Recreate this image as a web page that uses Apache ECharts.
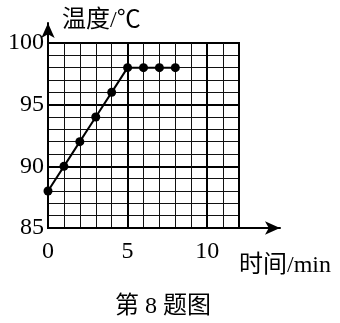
<!DOCTYPE html>
<html><head><meta charset="utf-8">
<script src="https://cdn.jsdelivr.net/npm/echarts@6/dist/echarts.min.js"></script>
<style>html,body{margin:0;padding:0;background:#fff}#c{width:340px;height:323px}</style>
</head><body><div id="c"></div>
<script>
const times = [0, 1, 2, 3, 4, 5, 6, 7, 8];
const temps = [88, 90, 92, 94, 96, 98, 98, 98, 98];
const xRange = [0, 12];
const yRange = [85, 100];
const yName = '温度/℃';
const xName = '时间/min';
const caption = '第 8 题图';

const serif = '"Liberation Serif", "Noto Sans CJK SC", serif';
const chart = echarts.init(document.getElementById('c'), null, {renderer: 'canvas'});
const gridA = {left: 48, right: 101, top: 43, bottom: 95, show: true, borderColor: '#000', borderWidth: 2};
const gridB = {left: 48, right: 60, top: 23, bottom: 95};
chart.setOption({
  backgroundColor: '#fff',
  animation: false,
  title: [
    {text: yName, left: 57, top: 4, textStyle: {fontFamily: serif, fontSize: 24, fontWeight: 'normal', color: '#000'}},
    {text: xName, left: 234, top: 249, textStyle: {fontFamily: serif, fontSize: 24, fontWeight: 'normal', color: '#000'}},
    {text: caption, left: 110, top: 290, textStyle: {fontFamily: serif, fontSize: 24, fontWeight: 'normal', color: '#000'}}
  ],
  grid: [gridA, gridB],
  xAxis: [
    {type: 'value', gridIndex: 0, min: xRange[0], max: xRange[1], interval: 1,
     axisLine: {show: false}, axisTick: {show: false}, axisLabel: {show: false},
     splitLine: {show: true, lineStyle: {color: '#111', width: 1}}},
    {type: 'value', gridIndex: 0, min: xRange[0], max: xRange[1], interval: 5, position: 'bottom',
     axisLine: {show: false}, axisTick: {show: false},
     axisLabel: {show: true, margin: 12, fontFamily: serif, fontSize: 24, color: '#000', showMaxLabel: false},
     splitLine: {show: true, lineStyle: {color: '#000', width: 2}}},
    {type: 'value', gridIndex: 1, min: 0, max: 1,
     axisLine: {show: true, symbol: ['none', 'arrow'], symbolSize: [10, 15], lineStyle: {color: '#000', width: 2}},
     axisTick: {show: false}, axisLabel: {show: false}, splitLine: {show: false}}
  ],
  yAxis: [
    {type: 'value', gridIndex: 0, min: yRange[0], max: yRange[1], interval: 1,
     axisLine: {show: false}, axisTick: {show: false}, axisLabel: {show: false},
     splitLine: {show: true, lineStyle: {color: '#111', width: 1}}},
    {type: 'value', gridIndex: 0, min: yRange[0], max: yRange[1], interval: 5, position: 'left',
     axisLine: {show: false}, axisTick: {show: false},
     axisLabel: {show: true, margin: 4, fontFamily: serif, fontSize: 24, color: '#000'},
     splitLine: {show: true, lineStyle: {color: '#000', width: 2}}},
    {type: 'value', gridIndex: 1, min: 0, max: 1,
     axisLine: {show: true, symbol: ['none', 'arrow'], symbolSize: [10, 15], lineStyle: {color: '#000', width: 2}},
     axisTick: {show: false}, axisLabel: {show: false}, splitLine: {show: false}}
  ],
  series: [{
    type: 'line', xAxisIndex: 0, yAxisIndex: 0,
    data: times.map((t, i) => [t, temps[i]]),
    symbol: 'circle', symbolSize: 9,
    itemStyle: {color: '#000'},
    lineStyle: {color: '#000', width: 2}
  }]
});
</script></body></html>
